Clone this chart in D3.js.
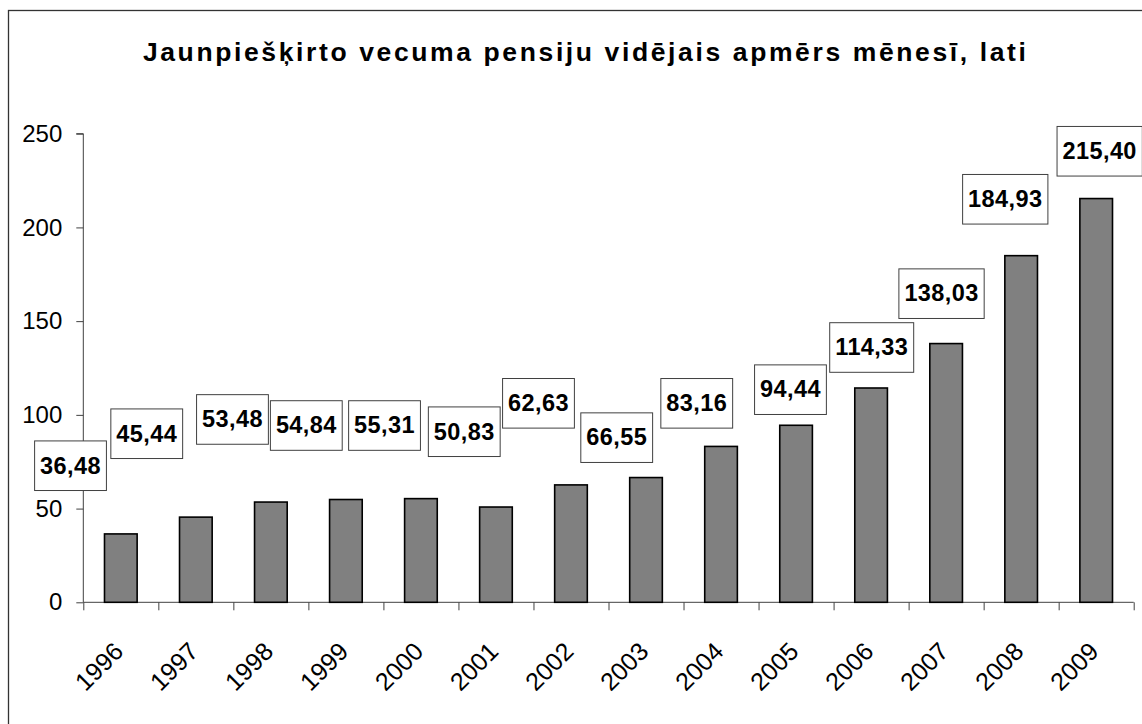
<!DOCTYPE html>
<html>
<head>
<meta charset="utf-8">
<script src="https://cdn.jsdelivr.net/npm/d3@7"></script>
<style>
  html, body { margin: 0; padding: 0; background: #fff; }
  svg { display: block; font-family: "Liberation Sans", Arial, sans-serif; }
</style>
</head>
<body>
<svg id="chart" width="1142" height="724"></svg>
<script>
// ---- data ----
const titleText = "Jaunpiešķirto vecuma pensiju vidējais apmērs mēnesī, lati";
const years = ["1996","1997","1998","1999","2000","2001","2002","2003","2004","2005","2006","2007","2008","2009"];
const values = [36.48,45.44,53.48,54.84,55.31,50.83,62.63,66.55,83.16,94.44,114.33,138.03,184.93,215.40];
const yTickValues = [0,50,100,150,200,250];

// ---- layout (manual label placement, box centre relative to bar top-centre, px) ----
const labelNudge = [[-50.3,-68.2],[-49.1,-83.4],[-38.4,-82.6],[-39.6,-74],[-36.4,-73.1],[-31.7,-75.3],[-32.5,-81.6],
                    [-29.3,-39.9],[-24.3,-43.1],[-5.6,-35.6],[0.6,-40.5],[-4.6,-49.9],[-15.9,-56.4],[3.5,-47.3]];

const svg = d3.select("#chart");
const plot = {left: 83.3, right: 1133.7, top: 133.7, bottom: 602.3};

// outer frame
svg.append("rect").attr("x", 8.5).attr("y", 10.5).attr("width", 1142).attr("height", 730)
  .attr("fill", "none").attr("stroke", "#333").attr("stroke-width", 1.3);

// title
svg.append("text").attr("x", 584.4).attr("y", 61)
  .attr("text-anchor", "middle").attr("font-size", 26.5).attr("font-weight", "bold")
  .attr("textLength", 883).attr("lengthAdjust", "spacing")
  .text(titleText);

const x = d3.scaleBand().domain(years).range([plot.left, plot.right])
  .paddingInner(0.565).paddingOuter(0.2825);
const y = d3.scaleLinear().domain([0, 250]).range([plot.bottom, plot.top]);
const xEdges = d3.scaleLinear().domain([0, years.length]).range([plot.left, plot.right]);

// y axis
const yAxis = svg.append("g").attr("transform", `translate(${plot.left},0)`)
  .call(d3.axisLeft(y).tickValues(yTickValues).tickSize(7).tickPadding(14).tickFormat(d3.format("d")));
yAxis.select(".domain").attr("stroke", "#404040").attr("d", `M-7,${y(250)}H0V${y(0)}`);
yAxis.selectAll(".tick line").attr("stroke", "#404040");
yAxis.selectAll(".tick text").attr("font-size", 24).attr("fill", "#000")
  .attr("font-family", "Liberation Sans, Arial, sans-serif");

// x axis (ticks at category boundaries)
const xAxis = svg.append("g").attr("transform", `translate(0,${plot.bottom})`)
  .call(d3.axisBottom(xEdges).tickValues(d3.range(years.length + 1)).tickSize(8).tickFormat(""));
xAxis.select(".domain").attr("stroke", "#404040").attr("d", `M${plot.left},0H${plot.right}`);
xAxis.selectAll(".tick line").attr("stroke", "#404040");

// bars
svg.append("g").selectAll("rect").data(values).join("rect")
  .attr("x", (d, i) => x(years[i]))
  .attr("y", d => y(d))
  .attr("width", x.bandwidth())
  .attr("height", d => y(0) - y(d))
  .attr("fill", "#808080").attr("stroke", "#000").attr("stroke-width", 1.6);

// year labels
svg.append("g").selectAll("text").data(years).join("text")
  .attr("transform", d => `translate(${x(d) + x.bandwidth() / 2 + 4},653) rotate(-45)`)
  .attr("text-anchor", "end").attr("font-size", 25).text(d => d);

// value labels in boxes
const fmt = v => d3.format(".2f")(v).replace(".", ",");
const lg = svg.append("g").selectAll("g").data(values).join("g")
  .attr("transform", (d, i) => `translate(${x(years[i]) + x.bandwidth() / 2 + labelNudge[i][0]},${y(d) + labelNudge[i][1]})`);
const lbRect = lg.append("rect").attr("fill", "#fff").attr("stroke", "#404040").attr("stroke-width", 1);
const lbText = lg.append("text").attr("text-anchor", "middle").attr("y", 7.8)
  .attr("font-size", 23.5).attr("font-weight", "bold").attr("letter-spacing", 0.4)
  .text(d => fmt(d));
lbText.each(function() {
  const w = this.getComputedTextLength() + 11;
  d3.select(this.parentNode).select("rect")
    .attr("x", -w / 2).attr("y", -24.8).attr("width", w).attr("height", 49.6);
});
</script>
</body>
</html>
